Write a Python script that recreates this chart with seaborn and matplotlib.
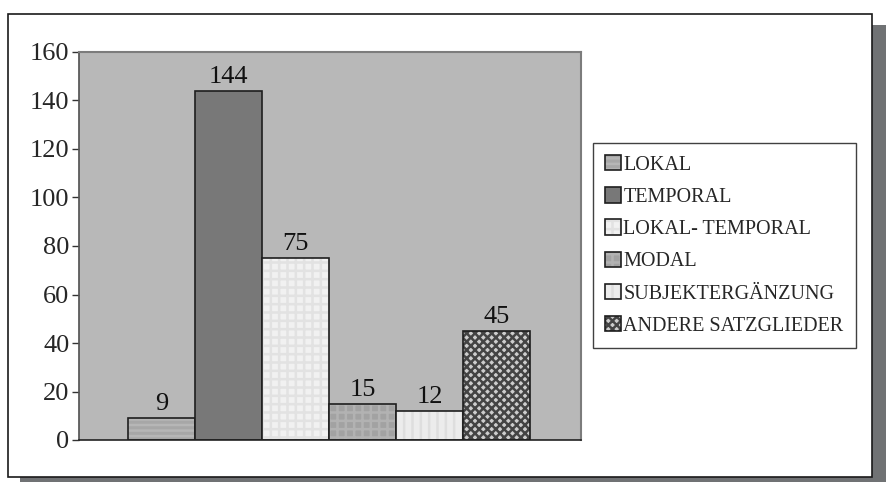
import matplotlib
matplotlib.use("Agg")
import matplotlib.pyplot as plt
import matplotlib.patches as mpatches
from matplotlib.colors import to_rgba
import seaborn as sns

# data
categories = ["LOKAL", "TEMPORAL", "LOKAL- TEMPORAL", "MODAL",
              "SUBJEKTERGÄNZUNG", "ANDERE SATZGLIEDER"]
values = [9, 144, 75, 15, 12, 45]
y_ticks = [0, 20, 40, 60, 80, 100, 120, 140, 160]

# look of each bar: face colour, hatch, hatch colour
faces = ["#a7a7a7", "#787878", "#f1f1f1", "#a2a2a2", "#ececec", "#cdcdcd"]
hatches = ["---", "", "++", "++", "||", "xxxx"]
hatch_cols = ["#b6b6b6", "#787878", "#e2e2e2", "#b2b2b2", "#dedede", "#444444"]

sns.set_theme(style="white")
plt.rcParams["font.family"] = ["Liberation Serif", "DejaVu Serif"]
plt.rcParams["hatch.linewidth"] = 1.8

W, H = 886, 482
fig = plt.figure(figsize=(W / 100, H / 100), dpi=100)
fig.patch.set_facecolor("white")

# outer frame with drop shadow
fig.add_artist(mpatches.Rectangle((20 / W, 0), 866 / W, (482 - 25) / H,
                                  transform=fig.transFigure, facecolor="#707274",
                                  edgecolor="none", zorder=0))
fig.add_artist(mpatches.Rectangle((8 / W, (H - 477) / H), 864 / W, 463 / H,
                                  transform=fig.transFigure, facecolor="white",
                                  edgecolor="#1a1a1a", linewidth=1.2, zorder=0.5))

ax = fig.add_axes([79 / W, (H - 440) / H, 502 / W, 388 / H])
ax.set_zorder(2)

sns.barplot(x=categories, y=values, hue=categories, palette=faces,
            width=1, dodge=False, legend=False, saturation=1, ax=ax,
            edgecolor="#1e1e1e", linewidth=1.2)

for p, h, hc in zip(ax.patches, hatches, hatch_cols):
    if h:
        p.set_hatch(h)
    p._hatch_color = to_rgba(hc)

ax.set_facecolor("#b8b8b8")
ax.set_xlim(-0.5 - 49 / 67, 5.5 + 51 / 67)
ax.set_ylim(0, 160)
ax.set_yticks(y_ticks)
ax.set_xticks([])
ax.set_xlabel("")
ax.set_ylabel("")
ax.tick_params(axis="y", length=5, width=1, color="#333333", direction="out",
               labelsize=19, pad=2, left=True)
for side in ["top", "right"]:
    ax.spines[side].set_color("#7c7c7c")
    ax.spines[side].set_linewidth(1.5)
ax.spines["left"].set_color("#555555")
ax.spines["bottom"].set_color("#222222")
ax.spines["bottom"].set_linewidth(1.2)

for c in ax.containers:
    ax.bar_label(c, padding=2, fontsize=19, color="#111111")

leg = fig.legend(handles=ax.patches, labels=categories, loc="upper left",
                 bbox_to_anchor=(593 / W, (H - 143) / H), borderaxespad=0,
                 fontsize=14.5, frameon=True, fancybox=False, edgecolor="#111111",
                 handlelength=0.8, handleheight=0.8, handletextpad=0.1,
                 labelspacing=0.62, borderpad=0.6)
leg.get_frame().set_linewidth(1.0)
leg.set_zorder(3)

fig.savefig("out.png", dpi=100)
